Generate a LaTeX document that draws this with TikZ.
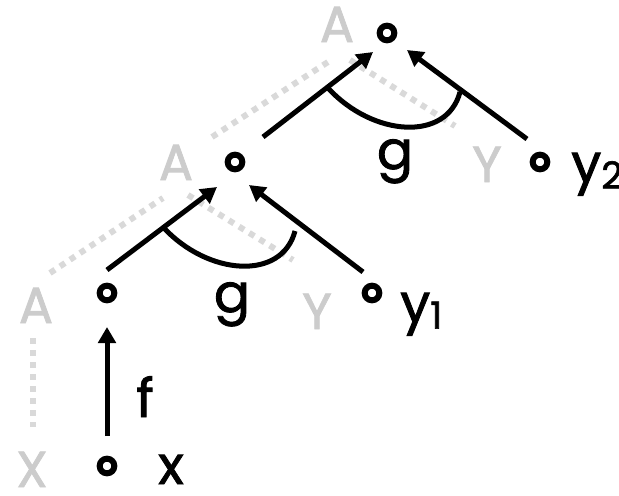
\documentclass[tikz,border=0pt]{standalone}
\usepackage{fontspec}
\setmainfont{Poppins}
\newfontfamily\lblfont{Poppins}[FakeBold=1.6]
\usetikzlibrary{arrows.meta,calc}
\begin{document}
\begin{tikzpicture}[x=0.75pt,y=-0.75pt,
  dot/.style={circle,draw,line width=4.5pt,minimum size=11pt,inner sep=0pt},
  arr/.style={line width=3.75pt,-{Triangle[length=12pt,width=13pt]}},
  garc/.style={line width=3.75pt},
  shadow/.style={draw=gray!30,line width=4.5pt,dash pattern=on 4.5pt off 4.5pt},
  glabel/.style={text=gray!40,inner sep=0pt,anchor=base,font=\lblfont\fontsize{38pt}{42pt}\selectfont},
  blabel/.style={inner sep=0pt,anchor=base,font=\lblfont\fontsize{40pt}{44pt}\selectfont},
  ylabel/.style={inner sep=0pt,anchor=base west,font=\lblfont\fontsize{40pt}{44pt}\selectfont}]
\useasboundingbox (0,0) rectangle (619,496);
% gray shadow labels
\node[glabel] (At) at (337,42) {A};
\node[glabel] (Am) at (176,180) {A};
\node[glabel] (Ab) at (36,323) {A};
\node[glabel] (X) at (32,487) {X};
\node[glabel] (Yu) at (487,182) {Y};
\node[glabel] (Yl) at (317,329) {Y};
% gray dotted connectors
\coordinate (s1) at (33,338);
\coordinate (s2) at (33,427);
\coordinate (s3) at (50,273);
\coordinate (s4) at (163,198);
\coordinate (s5) at (188,195);
\coordinate (s6) at (293,260);
\coordinate (s7) at (212,137);
\coordinate (s8) at (328,62);
\coordinate (s9) at (350,60);
\coordinate (s10) at (455,126);
\draw[shadow] (s1) -- (s2);
\draw[shadow] (s3) -- (s4);
\draw[shadow] (s5) -- (s6);
\draw[shadow] (s7) -- (s8);
\draw[shadow] (s9) -- (s10);
% black nodes
\node[dot] (root) at (387,33) {};
\node[dot] (mid) at (235,162) {};
\node[dot] (low) at (107,293) {};
\node[dot] (xn) at (107,466) {};
\node[dot] (ya) at (372,293) {};
\node[dot] (yb) at (540,162) {};
% arrows
\draw[arr] ($(xn)+(0,-30)$) -- ($(low)+(0,34)$);
\draw[arr] ($(low)+(0,-23)$) -- ($(mid)+(-18,25)$);
\draw[arr] ($(ya)+(-9,-21)$) -- ($(mid)+(14,23)$);
\draw[arr] ($(mid)+(28,-25)$) -- ($(root)+(-14,19)$);
\draw[arr] ($(yb)+(-13,-23)$) -- ($(root)+(20,17)$);
% g arcs
\coordinate (ua) at (328,88);
\coordinate (ub) at (460,92);
\coordinate (la) at (163,227);
\coordinate (lb) at (295,231);
\draw[garc] (ua) .. controls (373,137) and (447,142) .. (ub);
\draw[garc] (la) .. controls (208,276) and (282,281) .. (lb);
% black labels
\node[blabel] (xl) at (171,484) {x};
\node[blabel] (fl) at (145,417) {f};
\node[blabel] (gu) at (395,169) {g};
\node[blabel] (gl) at (232,312) {g};
\node[ylabel] (y2l) at (571,182) {y\raisebox{-5pt}{\fontsize{28pt}{30pt}\selectfont 2}};
\node[ylabel] (y1l) at (400,322) {y\raisebox{-5pt}{\fontsize{28pt}{30pt}\selectfont 1}};
\end{tikzpicture}
\end{document}
